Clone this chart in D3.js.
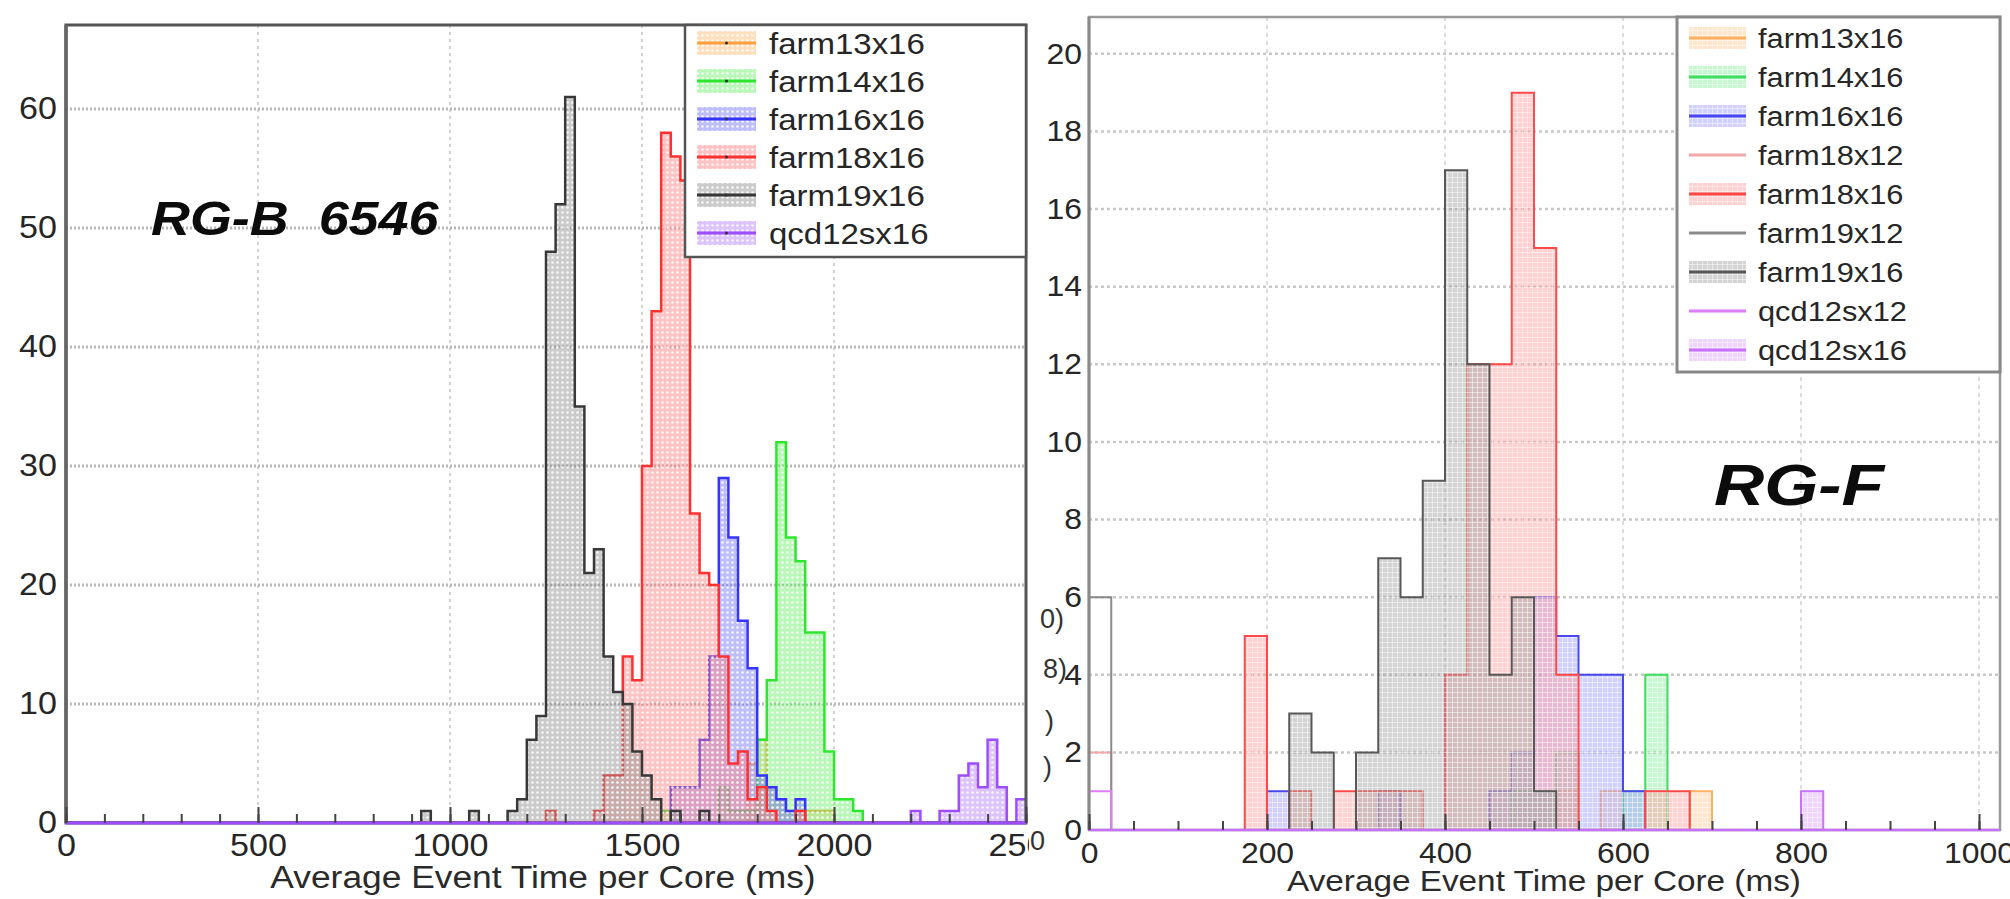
<!DOCTYPE html>
<html>
<head>
<meta charset="utf-8">
<script src="https://cdn.jsdelivr.net/npm/d3@7"></script>
<style>
  body { margin: 0; background: #fff; }
  text { font-family: "Liberation Sans", Arial, Helvetica, sans-serif; }
</style>
</head>
<body>
<svg id="chart" width="2010" height="899"></svg>
<script>
var binWidth = 25;

// RG-B 6546 : [bin start (ms), entries]
var rgbFarm13x16 = [[1775,5],[1800,7],[1825,3],[1850,2],[1875,1],[1900,1],[1925,1],[1950,1],[1975,1]];
var rgbFarm14x16 = [[1550,1],[1700,3],[1725,1],[1750,1],[1775,1],[1800,7],[1825,12],[1850,32],[1875,24],[1900,22],
                    [1925,16],[1950,16],[1975,6],[2000,2],[2025,2],[2050,1]];
var rgbFarm16x16 = [[1575,3],[1600,3],[1625,3],[1650,7],[1675,14],[1700,29],[1725,24],[1750,17],[1775,13],[1800,4],
                    [1825,3],[1850,2],[1875,1],[1900,2]];
var rgbFarm18x16 = [[1250,1],[1375,1],[1400,4],[1425,4],[1450,14],[1475,12],[1500,30],[1525,43],[1550,58],[1575,56],
                    [1600,54],[1625,26],[1650,21],[1675,20],[1700,14],[1725,5],[1750,6],[1775,2],[1800,3],[1825,1],[1900,1]];
var rgbFarm19x16 = [[925,1],[1050,1],[1150,1],[1175,2],[1200,7],[1225,9],[1250,48],[1275,52],[1300,61],[1325,35],
                    [1350,21],[1375,23],[1400,14],[1425,11],[1450,10],[1475,6],[1500,4],[1525,2],[1575,1],[1650,1]];
var rgbQcd12sx16 = [[2200,1],[2275,1],[2300,1],[2325,4],[2350,5],[2375,3],[2400,7],[2425,3],[2475,2]];

// RG-F
var rgfFarm13x16 = [[525,1],[575,1],[675,1]];
var rgfFarm14x16 = [[475,1],[500,1],[525,2],[600,1],[625,4]];
var rgfFarm16x16 = [[200,1],[325,1],[450,1],[475,2],[500,6],[525,5],[550,4],[575,4],[600,1]];
var rgfFarm18x12 = [[0,2]];
var rgfFarm18x16 = [[175,5],[225,1],[275,1],[300,1],[325,1],[350,1],[400,4],[425,12],[450,12],[475,19],[500,15],
                    [525,4],[625,1],[650,1]];
var rgfFarm19x12 = [[0,6]];
var rgfFarm19x16 = [[225,3],[250,2],[300,2],[325,7],[350,6],[375,9],[400,17],[425,12],[450,4],[475,6],[500,1]];
var rgfQcd12sx12 = [[0,1]];
var rgfQcd12sx16 = [[800,1]];

var leftNames  = ["farm13x16","farm14x16","farm16x16","farm18x16","farm19x16","qcd12sx16"];
var leftData   = [rgbFarm13x16, rgbFarm14x16, rgbFarm16x16, rgbFarm18x16, rgbFarm19x16, rgbQcd12sx16];
var leftColors = ["#ffa040","#2ee62e","#3434ff","#ff3030","#383838","#9d4dff"];
var leftFills  = ["#ffb870","#66f066","#7070ff","#ff7a7a","#8c8c8c","#b57aff"];

var rightNames  = ["farm13x16","farm14x16","farm16x16","farm18x12","farm18x16","farm19x12","farm19x16","qcd12sx12","qcd12sx16"];
var rightData   = [rgfFarm13x16, rgfFarm14x16, rgfFarm16x16, rgfFarm18x12, rgfFarm18x16, rgfFarm19x12, rgfFarm19x16, rgfQcd12sx12, rgfQcd12sx16];
var rightColors = ["#ffb060","#40dd60","#4848ee","#f4a8a8","#ff4848","#8a8a8a","#585858","#e07cff","#c870ff"];
var rightFills  = ["#ffc890","#80ee99","#9a9aff",null,"#ff9a9a",null,"#a0a0a0",null,"#d9a0ff"];

var leftTicks  = [0, 500, 1000, 1500, 2000, 2500];
var leftYTicks = [0, 10, 20, 30, 40, 50, 60];
var rightTicks = [0, 200, 400, 600, 800, 1000];
var rightYTicks = [0, 2, 4, 6, 8, 10, 12, 14, 16, 18, 20];

var svg = d3.select("#chart");
var defs = svg.append("defs");

function densify(pairs, nBins) {
  var c = new Array(nBins).fill(0);
  pairs.forEach(function(p) { c[Math.round(p[0] / binWidth)] = p[1]; });
  return c;
}

function stretch(sel, k) {
  sel.each(function() {
    var t = d3.select(this);
    var x = +t.attr("x") || 0;
    t.attr("transform", "translate(" + (x * (1 - k)) + ",0) scale(" + k + ",1)");
  });
}

function dotPattern(id, color) {
  var p = defs.append("pattern").attr("id", id)
      .attr("width", 5).attr("height", 5).attr("patternUnits", "userSpaceOnUse");
  p.append("rect").attr("width", 5).attr("height", 5).attr("fill", color).attr("fill-opacity", 0.45);
  p.append("circle").attr("cx", 2.5).attr("cy", 2.5).attr("r", 1.3).attr("fill", "#fff").attr("fill-opacity", 0.85);
}

function gridPattern(id, color) {
  var p = defs.append("pattern").attr("id", id)
      .attr("width", 5).attr("height", 5).attr("patternUnits", "userSpaceOnUse");
  p.append("rect").attr("width", 5).attr("height", 5).attr("fill", color).attr("fill-opacity", 0.45);
  p.append("path").attr("d", "M0,2.5H5M2.5,0V5").attr("stroke", "#fff").attr("stroke-opacity", 0.45).attr("stroke-width", 1);
}

function drawPanel(cfg) {
  var g = svg.append("g").attr("clip-path", "url(#" + cfg.id + "-img)");
  defs.append("clipPath").attr("id", cfg.id + "-img")
    .append("rect").attr("x", cfg.imgX0).attr("y", 0).attr("width", cfg.imgX1 - cfg.imgX0).attr("height", 899);
  defs.append("clipPath").attr("id", cfg.id + "-plot")
    .append("rect").attr("x", cfg.x.range()[0]).attr("y", cfg.y.range()[1])
      .attr("width", cfg.x.range()[1] - cfg.x.range()[0]).attr("height", cfg.y.range()[0] - cfg.y.range()[1]);

  var x = cfg.x, y = cfg.y;
  var x0 = x.range()[0], x1 = x.range()[1], y0 = y.range()[0], y1 = y.range()[1];

  // grid
  g.append("g").selectAll("line").data(cfg.xTicks.slice(1)).enter().append("line")
      .attr("x1", function(d) { return x(d); }).attr("x2", function(d) { return x(d); })
      .attr("y1", y1).attr("y2", y0)
      .attr("stroke", cfg.vGrid.color).attr("stroke-width", cfg.vGrid.width).attr("stroke-dasharray", cfg.vGrid.dash);
  g.append("g").selectAll("line").data(cfg.yTicks.slice(1)).enter().append("line")
      .attr("x1", x0).attr("x2", x1)
      .attr("y1", function(d) { return y(d); }).attr("y2", function(d) { return y(d); })
      .attr("stroke", cfg.hGrid.color).attr("stroke-width", cfg.hGrid.width).attr("stroke-dasharray", cfg.hGrid.dash);

  // histograms
  var nBins = cfg.nBins;
  var line = d3.line().x(function(d) { return x(d[0]); }).y(function(d) { return y(d[1]); }).curve(d3.curveStepAfter);
  var hg = g.append("g").attr("clip-path", "url(#" + cfg.id + "-plot)");
  cfg.names.forEach(function(name, i) {
    var counts = densify(cfg.data[i], nBins);
    var pts = [[0, 0]].concat(counts.map(function(c, j) { return [j * binWidth, c]; }), [[nBins * binWidth, 0]]);
    var fill = "none";
    if (cfg.fills[i]) {
      cfg.pattern(cfg.id + "-pat-" + i, cfg.fills[i]);
      fill = "url(#" + cfg.id + "-pat-" + i + ")";
    }
    hg.append("path").attr("d", line(pts))
      .attr("fill", fill)
      .attr("stroke", cfg.colors[i])
      .attr("stroke-width", cfg.histStroke)
      .attr("stroke-linejoin", "miter");
  });

  // frame
  g.append("rect").attr("x", x0).attr("y", y1).attr("width", x1 - x0).attr("height", y0 - y1)
    .attr("fill", "none").attr("stroke", cfg.frame.color).attr("stroke-width", cfg.frame.width);
  g.append("line").attr("x1", x0).attr("x2", x0).attr("y1", y1).attr("y2", y0)
    .attr("stroke", cfg.frame.axis).attr("stroke-width", cfg.frame.width + 0.5);

  // baseline in the last series colour, over the axis
  g.append("line").attr("x1", x0).attr("x2", x1).attr("y1", y0).attr("y2", y0)
    .attr("stroke", cfg.colors[cfg.colors.length - 1]).attr("stroke-width", cfg.histStroke + 0.5);

  // axes
  var minor = g.append("g").attr("transform", "translate(0," + y0 + ")")
      .call(d3.axisBottom(x).tickValues(cfg.minorTicks).tickSize(-cfg.minorLen).tickFormat(""));
  var major = g.append("g").attr("transform", "translate(0," + y0 + ")")
      .call(d3.axisBottom(x).tickValues(cfg.xTicks).tickSize(-cfg.majorLen).tickPadding(cfg.xPad).tickFormat(d3.format("d")));
  var left = g.append("g").attr("transform", "translate(" + x0 + ",0)")
      .call(d3.axisLeft(y).tickValues(cfg.yTicks).tickSize(0).tickPadding(cfg.yPad).tickFormat(d3.format("d")));
  [minor, major, left].forEach(function(a) {
    a.select(".domain").remove();
    a.selectAll(".tick line").attr("stroke", "#444").attr("stroke-width", 2);
    a.selectAll("text").attr("font-size", cfg.tickFont).attr("fill", "#262626")
      .style("font-family", "'Liberation Sans', Arial, sans-serif");
    stretch(a.selectAll("text"), 1.1);
  });

  // axis title
  var t = g.append("text").attr("x", cfg.titleX).attr("y", cfg.titleY).attr("text-anchor", "middle")
      .attr("font-size", cfg.titleFont).attr("fill", "#2a2a2a").text("Average Event Time per Core (ms)");
  stretch(t, cfg.titleStretch);

  // big label
  var b = g.append("text").attr("x", cfg.label.x).attr("y", cfg.label.y)
      .attr("font-size", cfg.label.size).attr("font-weight", "bold").attr("font-style", "italic")
      .attr("fill", "#0c0c0c").style("white-space", "pre").text(cfg.label.text);
  stretch(b, cfg.label.k);

  // legend
  var L = cfg.legend;
  g.append("rect").attr("x", L.x).attr("y", L.y).attr("width", L.w).attr("height", L.h)
    .attr("fill", "#fff").attr("stroke", L.stroke).attr("stroke-width", L.strokeW);
  var rows = g.append("g").selectAll("g").data(cfg.names).enter().append("g")
      .attr("transform", function(d, i) { return "translate(0," + (L.rowY + i * L.rowH) + ")"; });
  rows.each(function(d, i) {
    var r = d3.select(this);
    if (cfg.fills[i]) {
      r.append("rect").attr("x", L.sx).attr("y", -L.sh / 2).attr("width", L.sw).attr("height", L.sh)
        .attr("fill", "url(#" + cfg.id + "-pat-" + i + ")");
    }
    r.append("line").attr("x1", L.sx).attr("x2", L.sx + L.sw).attr("y1", 0).attr("y2", 0)
      .attr("stroke", cfg.colors[i]).attr("stroke-width", 3);
    if (L.marker) {
      r.append("circle").attr("cx", L.sx + L.sw / 2).attr("cy", 0).attr("r", 1.6).attr("fill", "#333");
    }
    var tx = r.append("text").attr("x", L.tx).attr("y", 0).attr("dy", "0.36em")
      .attr("font-size", L.font).attr("fill", "#262626").text(d);
    stretch(tx, 1.1);
  });
}

var xL = d3.scaleLinear().domain([0, 2500]).range([66, 1026]);
var yL = d3.scaleLinear().domain([0, 67.06]).range([823, 25]);
var xR = d3.scaleLinear().domain([0, 1023.6]).range([1089, 2000]);
var yR = d3.scaleLinear().domain([0, 20.95]).range([830, 17]);

drawPanel({
  id: "rgb", imgX0: 0, imgX1: 1029,
  x: xL, y: yL, nBins: 100,
  names: leftNames, data: leftData, colors: leftColors, fills: leftFills,
  pattern: dotPattern, histStroke: 2.5,
  xTicks: leftTicks, yTicks: leftYTicks, minorTicks: d3.range(0, 2501, 100),
  majorLen: 16, minorLen: 9, xPad: 11, yPad: 9, tickFont: 31,
  vGrid: {color: "#c4c4c4", width: 1.5, dash: "3,4"},
  hGrid: {color: "#b8b8b8", width: 3, dash: "2,2"},
  frame: {color: "#555", axis: "#666", width: 3},
  titleX: 543, titleY: 888, titleFont: 31, titleStretch: 1.14,
  label: {x: 151, y: 235, size: 49, k: 1.1, text: "RG-B  6546"},
  legend: {x: 685, y: 25, w: 341, h: 232, stroke: "#555", strokeW: 2.5,
           rowY: 43, rowH: 38, sx: 697, sw: 59, sh: 24, tx: 769, font: 30, marker: true}
});

drawPanel({
  id: "rgf", imgX0: 1029, imgX1: 2010,
  x: xR, y: yR, nBins: 41,
  names: rightNames, data: rightData, colors: rightColors, fills: rightFills,
  pattern: gridPattern, histStroke: 2,
  xTicks: rightTicks, yTicks: rightYTicks, minorTicks: d3.range(0, 1001, 50),
  majorLen: 16, minorLen: 9, xPad: 12, yPad: 7, tickFont: 29,
  vGrid: {color: "#d2d2d2", width: 1.5, dash: "4,4"},
  hGrid: {color: "#c8c8c8", width: 2.5, dash: "3,3"},
  frame: {color: "#999", axis: "#8a8a8a", width: 2.5},
  titleX: 1544, titleY: 891, titleFont: 30, titleStretch: 1.11,
  label: {x: 1714, y: 505, size: 58, k: 1.2, text: "RG-F"},
  legend: {x: 1677, y: 17, w: 323, h: 355, stroke: "#888", strokeW: 3,
           rowY: 38, rowH: 39, sx: 1689, sw: 57, sh: 22, tx: 1758, font: 28, marker: false}
});

// leftovers of a neighbouring panel at the seam
var strayText = [["0)", 1040, 628], ["8)", 1043, 678], [")", 1045, 730], [")", 1043, 776], ["0", 1030, 850]];
svg.append("g").selectAll("text").data(strayText).enter().append("text")
  .attr("x", function(d) { return d[1]; }).attr("y", function(d) { return d[2]; })
  .attr("font-size", 27).attr("fill", "#333").text(function(d) { return d[0]; });
</script>
</body>
</html>
